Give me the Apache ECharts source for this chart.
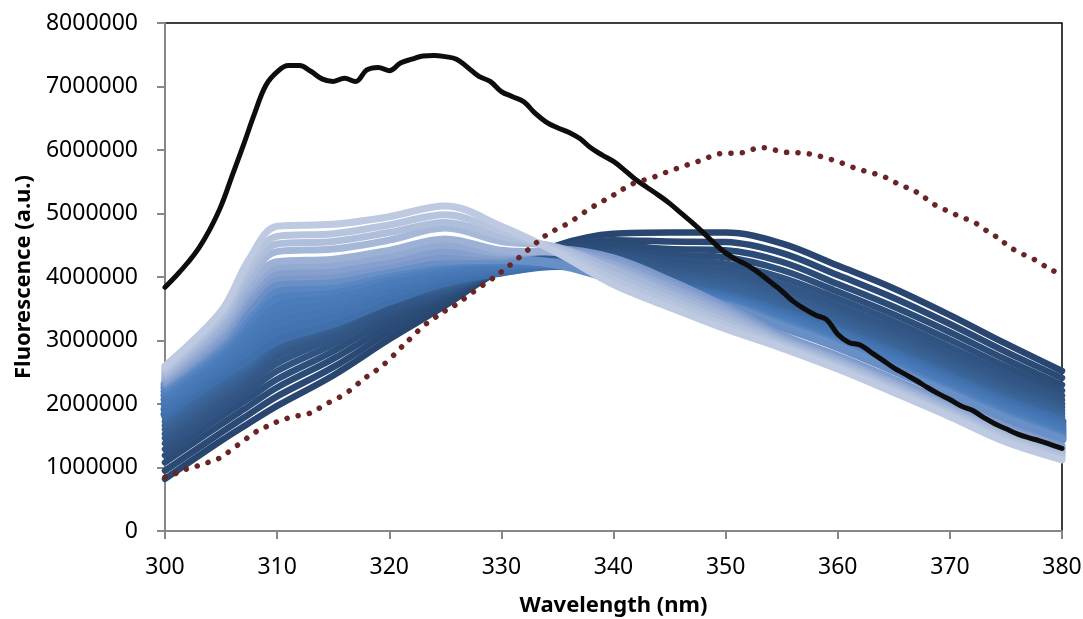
<!DOCTYPE html>
<html><head><meta charset="utf-8">
<script src="https://cdn.jsdelivr.net/npm/echarts@6/dist/echarts.min.js"></script>
<style>html,body{margin:0;padding:0;background:#fff}#c{width:1083px;height:619px}</style>
</head><body><div id="c"></div><script>
// values are in millions of counts (a.u.)
const SCALE = 1e6;

const WL_FINE = [300,301,302,303,304,305,306,307,308,309,310,311,312,313,314,315,316,317,318,319,320,321,322,323,324,325,326,327,328,329,330,331,332,333,334,335,336,337,338,339,340,341,342,343,344,345,346,347,348,349,350,351,352,353,354,355,356,357,358,359,360,361,362,363,364,365,366,367,368,369,370,371,372,373,374,375,376,377,378,379,380];

const BLACK_SOLID = [3.84,4.02,4.22,4.45,4.75,5.12,5.60,6.08,6.58,7.02,7.23,7.33,7.33,7.24,7.12,7.08,7.13,7.08,7.26,7.30,7.25,7.37,7.43,7.48,7.49,7.47,7.43,7.30,7.16,7.08,6.92,6.84,6.76,6.58,6.44,6.35,6.28,6.18,6.03,5.92,5.82,5.68,5.53,5.41,5.29,5.16,5.01,4.86,4.70,4.53,4.38,4.27,4.18,4.06,3.92,3.78,3.62,3.50,3.40,3.33,3.10,2.97,2.93,2.81,2.69,2.57,2.47,2.37,2.26,2.16,2.07,1.97,1.90,1.79,1.69,1.61,1.53,1.47,1.42,1.36,1.30];

const RED_DOTTED = [0.85,0.91,0.98,1.03,1.09,1.16,1.29,1.42,1.55,1.64,1.72,1.78,1.82,1.86,1.96,2.06,2.15,2.29,2.43,2.55,2.70,2.88,3.05,3.22,3.35,3.47,3.57,3.70,3.83,3.95,4.08,4.22,4.37,4.52,4.66,4.76,4.85,4.97,5.09,5.19,5.29,5.40,5.49,5.54,5.60,5.67,5.73,5.79,5.85,5.92,5.95,5.95,5.98,6.04,6.02,5.97,5.96,5.95,5.92,5.87,5.82,5.75,5.69,5.64,5.59,5.50,5.42,5.34,5.22,5.10,5.03,4.94,4.88,4.76,4.65,4.52,4.40,4.32,4.23,4.11,4.07];

const WL_BLUE = [300,305,307.5,310,315,320,325,330,335,340,345,350,355,360,365,370,375,380];

// darkest (navy) group, D0 = darkest
const DARK_SERIES = [
 [0.82,1.42,1.70,1.97,2.45,3.02,3.55,4.12,4.50,4.68,4.70,4.70,4.53,4.18,3.82,3.40,2.95,2.52],
 [0.95,1.55,1.84,2.12,2.58,3.13,3.62,4.11,4.48,4.58,4.56,4.55,4.38,4.03,3.67,3.26,2.82,2.41],
 [1.08,1.68,1.97,2.26,2.71,3.23,3.67,4.12,4.45,4.50,4.44,4.42,4.24,3.89,3.53,3.13,2.70,2.30],
 [1.19,1.80,2.09,2.39,2.83,3.33,3.71,4.10,4.41,4.43,4.35,4.31,4.11,3.77,3.41,3.01,2.59,2.21],
 [1.29,1.90,2.20,2.52,2.94,3.42,3.75,4.11,4.38,4.37,4.27,4.21,3.99,3.66,3.30,2.90,2.49,2.13],
 [1.38,1.99,2.31,2.64,3.04,3.50,3.78,4.09,4.35,4.33,4.19,4.12,3.89,3.56,3.20,2.81,2.41,2.06],
 [1.46,2.07,2.40,2.75,3.12,3.56,3.81,4.10,4.32,4.29,4.13,4.04,3.80,3.48,3.12,2.73,2.34,2.00],
 [1.53,2.14,2.47,2.84,3.18,3.60,3.84,4.08,4.29,4.25,4.07,3.97,3.72,3.41,3.05,2.66,2.28,1.95],
 [1.60,2.21,2.53,2.90,3.22,3.63,3.86,4.09,4.26,4.21,4.01,3.91,3.65,3.34,2.98,2.59,2.22,1.90],
 [1.66,2.27,2.58,2.95,3.26,3.66,3.88,4.07,4.23,4.18,3.96,3.85,3.58,3.28,2.92,2.53,2.16,1.85],
 [1.72,2.33,2.62,2.99,3.29,3.68,3.90,4.08,4.20,4.15,3.92,3.79,3.52,3.23,2.87,2.49,2.12,1.80],
 [1.78,2.39,2.66,3.02,3.32,3.70,3.92,4.06,4.18,4.12,3.88,3.74,3.48,3.18,2.83,2.45,2.08,1.76]
];

// medium blue group, darker first
const MID_SERIES = [
 [1.84,2.44,2.72,3.00,3.27,3.62,3.92,4.08,4.18,4.10,3.86,3.70,3.44,3.14,2.79,2.41,2.04,1.72],
 [1.92,2.53,2.84,3.14,3.38,3.71,3.98,4.12,4.20,4.08,3.83,3.67,3.40,3.10,2.74,2.36,1.99,1.67],
 [2.00,2.62,2.96,3.28,3.49,3.80,4.04,4.16,4.21,4.06,3.80,3.65,3.37,3.06,2.70,2.32,1.95,1.62],
 [2.07,2.70,3.08,3.42,3.60,3.88,4.10,4.19,4.22,4.04,3.77,3.62,3.34,3.02,2.66,2.28,1.91,1.58],
 [2.14,2.78,3.20,3.55,3.70,3.95,4.15,4.22,4.22,4.02,3.74,3.60,3.31,2.99,2.62,2.24,1.87,1.54],
 [2.20,2.85,3.31,3.68,3.79,4.02,4.19,4.25,4.22,4.00,3.71,3.58,3.28,2.96,2.59,2.21,1.84,1.50],
 [2.26,2.92,3.41,3.80,3.87,4.08,4.23,4.27,4.21,3.98,3.69,3.56,3.25,2.93,2.56,2.18,1.80,1.47],
 [2.31,2.98,3.50,3.90,3.95,4.13,4.26,4.28,4.20,3.96,3.66,3.54,3.22,2.90,2.53,2.15,1.77,1.44]
];

// light group, less light first, lightest last
const LIGHT_SERIES = [
 [2.33,3.02,3.60,3.98,4.02,4.18,4.32,4.32,4.44,4.30,3.95,3.54,3.09,2.76,2.39,2.01,1.64,1.34],
 [2.36,3.08,3.68,4.06,4.10,4.25,4.40,4.35,4.42,4.25,3.90,3.50,3.06,2.73,2.36,1.98,1.61,1.31],
 [2.40,3.15,3.76,4.15,4.19,4.33,4.50,4.38,4.40,4.20,3.84,3.46,3.03,2.70,2.33,1.95,1.58,1.28],
 [2.44,3.22,3.85,4.24,4.28,4.42,4.60,4.42,4.38,4.15,3.78,3.41,3.00,2.67,2.30,1.92,1.55,1.25],
 [2.48,3.30,3.96,4.40,4.44,4.58,4.77,4.56,4.47,4.12,3.73,3.36,2.97,2.64,2.27,1.89,1.52,1.22],
 [2.52,3.36,4.08,4.52,4.56,4.70,4.86,4.64,4.45,4.04,3.66,3.30,2.94,2.61,2.24,1.86,1.48,1.19],
 [2.56,3.42,4.18,4.64,4.68,4.82,4.98,4.72,4.42,3.96,3.59,3.24,2.91,2.58,2.21,1.83,1.44,1.15],
 [2.60,3.46,4.28,4.80,4.83,4.95,5.12,4.80,4.38,3.88,3.52,3.18,2.88,2.55,2.18,1.80,1.40,1.12]
];

// styles
const DARK_COLORS = ['#284670','#2A4974','#2C4C78','#2E4F7C','#305381','#325685','#345989','#365D8E','#386092','#3A6497','#3C679C','#3E6BA1'];
const MID_COLORS = ['#4070AC','#4373B0','#4676B4','#4979B7','#4B7CBA','#5080BD','#5A86C1','#6890C6'];
const LIGHT_COLORS = ['#7C99CA','#879FCE','#92A9D2','#9CB1D5','#A6B8D8','#AFBEDB','#B7C4DE','#BECAE1'];

function pairs(xs, ys){ return xs.map((x,i)=>[x, ys[i]*SCALE]); }

const series = [];
function addBlue(arr, colors, w){
  arr.forEach((ys,i)=>{
    series.push({type:'line', data:pairs(WL_BLUE, ys), symbol:'none', smooth:0.35,
      lineStyle:{color:colors[i], width:w, join:'round', cap:'round'}, silent:true});
  });
}
addBlue(DARK_SERIES, DARK_COLORS, 6.5);
addBlue(MID_SERIES, MID_COLORS, 9);
addBlue(LIGHT_SERIES, LIGHT_COLORS, 7);
series.push({type:'line', data:pairs(WL_FINE, BLACK_SOLID), symbol:'none', smooth:0.4,
  lineStyle:{color:'#0d0d0d', width:5, join:'round', cap:'round'}});
series.push({type:'line', data:pairs(WL_FINE, RED_DOTTED), symbol:'none', smooth:0.4,
  lineStyle:{color:'#6B2424', width:5.5, type:[0.1, 11.3], cap:'round'}});

const FONT = 'Noto Sans';
const chart = echarts.init(document.getElementById('c'), null, {renderer:'canvas'});
chart.setOption({
  animation:false,
  backgroundColor:'#ffffff',
  grid:{left:165, right:21, top:23, bottom:88, show:true, borderColor:'#000', borderWidth:1.5,
    backgroundColor:'transparent', containLabel:false, outerBoundsMode:'none'},
  xAxis:{type:'value', min:300, max:380, interval:10,
    name:'Wavelength (nm)', nameLocation:'middle', nameGap:64,
    nameTextStyle:{fontFamily:FONT, fontWeight:'bold', fontSize:22, color:'#000'},
    axisLine:{show:true, onZero:false, lineStyle:{color:'#878787', width:2}},
    axisTick:{show:true, length:8, lineStyle:{color:'#878787', width:2}},
    axisLabel:{fontFamily:FONT, fontSize:23, color:'#000', margin:25, formatter:v=>String(v)},
    splitLine:{show:false}},
  yAxis:{type:'value', min:0, max:8000000, interval:1000000,
    name:'Fluorescence (a.u.)', nameLocation:'middle', nameGap:126,
    nameTextStyle:{fontFamily:FONT, fontWeight:'bold', fontSize:22, color:'#000'},
    axisLine:{show:true, lineStyle:{color:'#878787', width:2}},
    axisTick:{show:true, length:8, lineStyle:{color:'#878787', width:2}},
    axisLabel:{fontFamily:FONT, fontSize:23, color:'#000', margin:27, formatter:v=>String(v)},
    splitLine:{show:false}},
  series: series
});
</script></body></html>
